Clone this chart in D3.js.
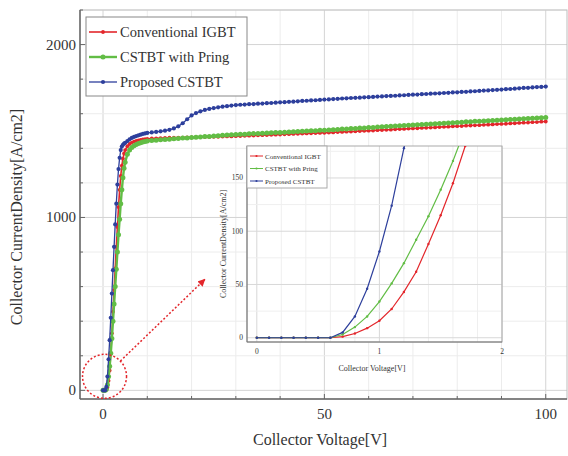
<html>
<head>
	<title>CSTBT output characteristics</title>
	<meta charset="utf-8">
	<script src="https://d3js.org/d3.v7.min.js"></script>
	<style>
		body { margin: 0; background: #fff; }
		text { font-family: "Liberation Serif", "DejaVu Serif", serif; fill: #333; }
	</style>
</head>
<body>
	<svg id="chart" width="568" height="456"></svg>

	<script type="text/javascript">
		// ---- data ----
		var seriesNames = ["Conventional IGBT", "CSTBT with Pring", "Proposed CSTBT"]
		var seriesColors = ["#e3262b", "#62bd45", "#2d3f9c"]

		// main plot: collector voltage [V]
		var mainVoltage = [0,0.25,0.5,0.75,1,1.25,1.5,1.75,2,2.25,2.5,2.75,3,3.25,3.5,3.75,4,4.25,4.5,4.75,
			5,5.5,6,6.5,7,7.5,8,8.5,9,9.5,
			10,11,12,13,14,15,16,17,18,19,20,21,22,23,24,25,26,27,28,29,30,
			31,32,33,34,35,36,37,38,39,40,41,42,43,44,45,46,47,48,49,50,
			51,52,53,54,55,56,57,58,59,60,61,62,63,64,65,66,67,68,69,70,
			71,72,73,74,75,76,77,78,79,80,81,82,83,84,85,86,87,88,89,90,
			91,92,93,94,95,96,97,98,99,100]

		var mainConventional = [0,0,0,3,16,55,115,215,330,455,580,705,830,945,1060,1160,1240,1300,1340,1370,
			1390,1412,1425,1433,1439,1443,1446,1449,1451,1453,
			1455,1457,1458,1459,1460,1461,1461,1462,1462,1463,1463,1464,1465,1465,1466,1467,1467,1468,1469,1469,1470,
			1471,1472,1473,1474,1475,1476,1477,1478,1479,1480,1481,1482,1483,1484,1485,1486,1487,1488,1489,1490,
			1491,1492,1494,1495,1496,1497,1498,1500,1501,1502,1503,1505,1506,1507,1508,1510,1511,1512,1514,1515,
			1516,1518,1519,1520,1521,1523,1524,1525,1527,1528,1529,1531,1532,1533,1534,1536,1537,1538,1540,1541,
			1542,1544,1545,1547,1548,1549,1551,1552,1554,1555]

		var mainPring = [0,0,0,6,33,80,139,215,300,400,500,600,700,800,900,990,1080,1160,1230,1285,
			1320,1365,1390,1405,1415,1422,1428,1432,1436,1439,
			1442,1445,1447,1449,1451,1453,1455,1457,1459,1460,1462,1464,1466,1468,1469,1471,1473,1475,1477,1478,1480,
			1481,1482,1484,1485,1486,1487,1488,1490,1491,1492,1493,1494,1496,1497,1498,1500,1501,1502,1504,1505,
			1506,1508,1509,1511,1512,1514,1515,1517,1518,1520,1521,1523,1524,1526,1527,1529,1530,1532,1533,1535,
			1536,1538,1539,1541,1542,1544,1545,1547,1548,1550,1551,1553,1554,1556,1557,1558,1560,1561,1563,1564,
			1565,1567,1568,1569,1571,1572,1574,1575,1577,1578]

		var mainProposed = [0,0,0,20,80,180,290,420,560,695,830,960,1080,1190,1280,1345,1390,1410,1420,1427,
			1432,1442,1452,1460,1466,1471,1475,1479,1483,1486,
			1489,1492,1495,1498,1502,1507,1515,1527,1545,1568,1590,1604,1614,1622,1628,1633,1637,1641,1644,1647,1650,
			1652,1653,1655,1656,1658,1659,1661,1662,1664,1666,1667,1669,1670,1672,1674,1675,1677,1678,1680,1682,
			1683,1685,1686,1688,1689,1691,1692,1693,1695,1696,1697,1699,1700,1702,1703,1704,1706,1707,1709,1710,
			1711,1713,1714,1716,1717,1718,1720,1721,1723,1724,1726,1727,1729,1730,1732,1734,1735,1737,1738,1740,
			1742,1743,1745,1747,1749,1750,1752,1754,1755,1757]

		// inset: low-voltage zoom
		var insetVoltage = [0,0.1,0.2,0.3,0.4,0.5,0.6,0.7,0.8,0.9,1,1.1,1.2,1.3,1.4,1.5,1.6,1.7,1.8]
		var insetConventional = [0,0,0,0,0,0,0,1,4,9,16,27,43,62,88,115,145,180,218]
		var insetPring = [0,0,0,0,0,0,0,3,10,20,34,51,70,92,114,139,166,196,228]
		var insetProposed = [0,0,0,0,0,0,0,5,20,46,81,124,178,240,300,360,420,480,540]

		var mainXTicks = [0, 50, 100]
		var mainYTicks = [0, 1000, 2000]
		var insetXTicks = [0, 1, 2]
		var insetYTicks = [0, 50, 100, 150]

		var mainSeries = [mainConventional, mainPring, mainProposed]
		var insetSeries = [insetConventional, insetPring, insetProposed]

		// ---- main plot ----
		var svg = d3.select("#chart")
		var x = d3.scaleLinear().domain([-5.2, 104.8]).range([80, 567])
		var y = d3.scaleLinear().domain([-50, 2200]).range([399, 10])

		var grid = svg.append("g")
		grid.selectAll("line.vx")
		  .data(d3.range(0, 101, 10))
		  .enter().append("line")
			.attr("x1", d => x(d)).attr("x2", d => x(d))
			.attr("y1", y.range()[0]).attr("y2", y.range()[1])
			.attr("stroke", d => d % 50 == 0 ? "#d4d4d4" : "#ececec")
			.attr("stroke-width", 1)
		grid.selectAll("line.hy")
		  .data(d3.range(0, 2201, 200))
		  .enter().append("line")
			.attr("y1", d => y(d)).attr("y2", d => y(d))
			.attr("x1", x.range()[0]).attr("x2", x.range()[1])
			.attr("stroke", d => d % 1000 == 0 ? "#d4d4d4" : "#ececec")
			.attr("stroke-width", 1)

		// frame
		svg.append("rect")
			.attr("x", 80).attr("y", 10).attr("width", 487).attr("height", 389)
			.attr("fill", "none").attr("stroke", "#bdbdbd")
		svg.append("line").attr("x1", 80).attr("x2", 567).attr("y1", 399).attr("y2", 399)
			.attr("stroke", "#666").attr("stroke-width", 1.5)
		svg.append("line").attr("x1", 80).attr("x2", 80).attr("y1", 10).attr("y2", 399)
			.attr("stroke", "#666").attr("stroke-width", 1.5)

		// inward ticks
		svg.selectAll("line.tx")
		  .data(d3.range(0, 101, 10))
		  .enter().append("line")
			.attr("x1", d => x(d)).attr("x2", d => x(d))
			.attr("y1", 399).attr("y2", d => d % 50 == 0 ? 394 : 396)
			.attr("stroke", "#666")
		svg.selectAll("line.ty")
		  .data(d3.range(0, 2201, 200))
		  .enter().append("line")
			.attr("y1", d => y(d)).attr("y2", d => y(d))
			.attr("x1", 80).attr("x2", d => d % 1000 == 0 ? 85 : 83)
			.attr("stroke", "#666")

		svg.selectAll("text.xl")
		  .data(mainXTicks)
		  .enter().append("text")
			.attr("x", d => x(d)).attr("y", 419)
			.attr("text-anchor", "middle")
			.attr("font-size", 15)
			.text(d => d)
		svg.selectAll("text.yl")
		  .data(mainYTicks)
		  .enter().append("text")
			.attr("x", 76).attr("y", d => y(d) + 5)
			.attr("text-anchor", "end")
			.attr("font-size", 15)
			.text(d => d)

		svg.append("text")
			.attr("x", 320).attr("y", 445)
			.attr("text-anchor", "middle").attr("font-size", 16)
			.text("Collector Voltage[V]")
		svg.append("text")
			.attr("transform", "translate(22,217) rotate(-90)")
			.attr("text-anchor", "middle").attr("font-size", 16)
			.text("Collector CurrentDensity[A/cm2]")

		var mainStyle = [{w: 1.6, r: 1.9}, {w: 2.4, r: 2.5}, {w: 1.3, r: 2.1}]
		var line = d3.line().x(d => x(d[0])).y(d => y(d[1]))
		mainSeries.forEach(function (vals, i) {
			var pts = mainVoltage.map((v, j) => [v, vals[j]])
			var g = svg.append("g")
			g.append("path")
				.attr("d", line(pts))
				.attr("fill", "none")
				.attr("stroke", seriesColors[i])
				.attr("stroke-width", mainStyle[i].w)
			g.selectAll("circle")
			  .data(pts)
			  .enter().append("circle")
				.attr("cx", d => x(d[0])).attr("cy", d => y(d[1]))
				.attr("r", mainStyle[i].r)
				.attr("fill", seriesColors[i])
		})

		// main legend
		var leg = svg.append("g")
		leg.append("rect")
			.attr("x", 86).attr("y", 17).attr("width", 161).attr("height", 79)
			.attr("fill", "#fff").attr("stroke", "#888")
		seriesNames.forEach(function (name, i) {
			var ly = 32 + i * 25
			leg.append("line")
				.attr("x1", 89).attr("x2", 117).attr("y1", ly).attr("y2", ly)
				.attr("stroke", seriesColors[i]).attr("stroke-width", mainStyle[i].w)
			leg.append("circle")
				.attr("cx", 103).attr("cy", ly).attr("r", mainStyle[i].r)
				.attr("fill", seriesColors[i])
			leg.append("text")
				.attr("x", 120).attr("y", ly + 5)
				.attr("font-size", 14.5)
				.text(name)
		})

		// ---- inset ----
		var xi = d3.scaleLinear().domain([-0.08, 2]).range([247, 502])
		var yi = d3.scaleLinear().domain([-4, 180]).range([342, 146])

		var inset = svg.append("g")
		inset.append("rect")
			.attr("x", 247).attr("y", 146).attr("width", 255).attr("height", 196)
			.attr("fill", "#fff")
		inset.selectAll("line.ivx")
		  .data(d3.range(0, 11).map(d => d * 0.2))
		  .enter().append("line")
			.attr("x1", d => xi(d)).attr("x2", d => xi(d))
			.attr("y1", 146).attr("y2", 342)
			.attr("stroke", (d, i) => i % 5 == 0 ? "#d8d8d8" : "#efefef")
		inset.selectAll("line.ihy")
		  .data(d3.range(0, 176, 25))
		  .enter().append("line")
			.attr("y1", d => yi(d)).attr("y2", d => yi(d))
			.attr("x1", 247).attr("x2", 502)
			.attr("stroke", d => d % 50 == 0 ? "#d8d8d8" : "#efefef")
		inset.append("rect")
			.attr("x", 247).attr("y", 146).attr("width", 255).attr("height", 196)
			.attr("fill", "none").attr("stroke", "#aaa")
		inset.append("line").attr("x1", 247).attr("x2", 502).attr("y1", 342).attr("y2", 342)
			.attr("stroke", "#777")
		inset.append("line").attr("x1", 247).attr("x2", 247).attr("y1", 146).attr("y2", 342)
			.attr("stroke", "#777")

		inset.selectAll("text.ixl")
		  .data(insetXTicks)
		  .enter().append("text")
			.attr("x", d => xi(d)).attr("y", 354)
			.attr("text-anchor", "middle").attr("font-size", 7.5)
			.text(d => d)
		inset.selectAll("text.iyl")
		  .data(insetYTicks)
		  .enter().append("text")
			.attr("x", 243).attr("y", d => yi(d) + 2.5)
			.attr("text-anchor", "end").attr("font-size", 7.5)
			.text(d => d)
		inset.append("text")
			.attr("x", 372).attr("y", 371)
			.attr("text-anchor", "middle").attr("font-size", 8)
			.text("Collector Voltage[V]")
		inset.append("text")
			.attr("transform", "translate(226,244) rotate(-90)")
			.attr("text-anchor", "middle").attr("font-size", 8)
			.text("Collector CurrentDensity[A/cm2]")

		svg.append("clipPath").attr("id", "insetClip")
		  .append("rect")
			.attr("x", 247).attr("y", 146).attr("width", 255).attr("height", 196)
		var lineI = d3.line().x(d => xi(d[0])).y(d => yi(d[1]))
		var insetPlot = inset.append("g").attr("clip-path", "url(#insetClip)")
		insetSeries.forEach(function (vals, i) {
			var pts = insetVoltage.map((v, j) => [v, vals[j]])
			insetPlot.append("path")
				.attr("d", lineI(pts))
				.attr("fill", "none")
				.attr("stroke", seriesColors[i])
				.attr("stroke-width", 1.2)
			insetPlot.selectAll("circle.s" + i)
			  .data(pts)
			  .enter().append("circle")
				.attr("cx", d => xi(d[0])).attr("cy", d => yi(d[1]))
				.attr("r", 1.2)
				.attr("fill", seriesColors[i])
		})

		// inset legend
		var ileg = inset.append("g")
		ileg.append("rect")
			.attr("x", 247).attr("y", 146).attr("width", 80).attr("height", 42)
			.attr("fill", "#fff").attr("stroke", "#aaa")
		seriesNames.forEach(function (name, i) {
			var ly = 156 + i * 12.5
			ileg.append("line")
				.attr("x1", 250).attr("x2", 263).attr("y1", ly).attr("y2", ly)
				.attr("stroke", seriesColors[i]).attr("stroke-width", 1)
			ileg.append("circle")
				.attr("cx", 256.5).attr("cy", ly).attr("r", 1.1)
				.attr("fill", seriesColors[i])
			ileg.append("text")
				.attr("x", 265).attr("y", ly + 2.5)
				.attr("font-size", 7)
				.text(name)
		})

		// ---- zoom annotation: dotted circle and arrow ----
		var circleAt = [0.34, 81]
		var arrowTip = [23, 642]
		var cx = x(circleAt[0]), cy = y(circleAt[1]), cr = 22
		var tx = x(arrowTip[0]), ty = y(arrowTip[1])
		var ang = Math.atan2(ty - cy, tx - cx)
		var sx = cx + cr * Math.cos(ang), sy = cy + cr * Math.sin(ang)

		svg.append("circle")
			.attr("cx", cx).attr("cy", cy).attr("r", cr)
			.attr("fill", "none").attr("stroke", "#e3262b")
			.attr("stroke-width", 1.5).attr("stroke-dasharray", "2,2")
		svg.append("defs").append("marker")
			.attr("id", "arrow").attr("viewBox", "0 0 10 10")
			.attr("refX", 9).attr("refY", 5)
			.attr("markerWidth", 5).attr("markerHeight", 5)
			.attr("orient", "auto")
		  .append("path")
			.attr("d", "M0,0 L10,5 L0,10 z")
			.attr("fill", "#e3262b")
		svg.append("line")
			.attr("x1", sx).attr("y1", sy).attr("x2", tx).attr("y2", ty)
			.attr("stroke", "#e3262b").attr("stroke-width", 1.5)
			.attr("stroke-dasharray", "2,2")
			.attr("marker-end", "url(#arrow)")
	</script>
</body>
</html>
